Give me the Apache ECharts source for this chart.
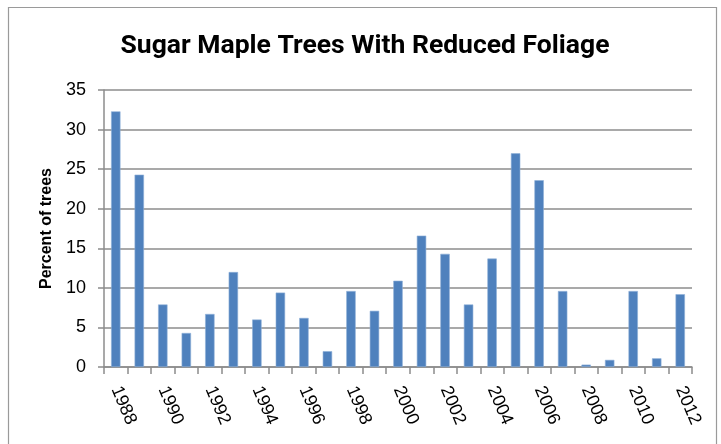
<!DOCTYPE html>
<html><head><meta charset="utf-8">
<script src="https://cdn.jsdelivr.net/npm/echarts@6/dist/echarts.min.js"></script>
<style>html,body{margin:0;padding:0;background:#fff}#c{width:721px;height:444px}</style>
</head><body><div id="c"></div>
<script>
const years = ['1988','1989','1990','1991','1992','1993','1994','1995','1996','1997','1998','1999','2000','2001','2002','2003','2004','2005','2006','2007','2008','2009','2010','2011','2012'];
const percentTrees = [32.3,24.3,7.9,4.3,6.7,12.0,6.0,9.4,6.2,2.0,9.6,7.1,10.9,16.6,14.3,7.9,13.7,27.0,23.6,9.6,0.3,0.9,9.6,1.1,9.2];
const yTicks = {min:0, max:35, interval:5};
const titleText = 'Sugar Maple Trees With Reduced Foliage';
const yName = 'Percent of trees';

const chart = echarts.init(document.getElementById('c'), null, {renderer:'canvas'});
chart.setOption({
  backgroundColor:'#fff',
  animation:false,
  graphic:[{type:'rect', shape:{x:8.5,y:7.5,width:708,height:450}, style:{fill:'none', stroke:'#9a9a9a', lineWidth:1.2}, z:-1}],
  title:{text:titleText, left:360, top:28, textAlign:'center', textStyle:{fontFamily:'Roboto', fontWeight:'bold', fontSize:26.5, color:'#000'}},
  grid:{left:104, right:29, top:90, bottom:77},
  xAxis:{type:'category', data:years, boundaryGap:true,
    axisLine:{lineStyle:{color:'#8c8c8c', width:1.5}},
    axisTick:{show:true, length:7, interval:0, lineStyle:{color:'#8c8c8c', width:1.5}},
    axisLabel:{interval:1, rotate:-67, margin:20, fontFamily:'Liberation Sans', fontSize:18, color:'#000'}},
  yAxis:{type:'value', min:yTicks.min, max:yTicks.max, interval:yTicks.interval,
    name:yName, nameLocation:'middle', nameGap:45, nameRotate:90,
    nameTextStyle:{fontFamily:'Liberation Sans', fontWeight:'bold', fontSize:16, color:'#000'},
    axisLine:{show:true, lineStyle:{color:'#8c8c8c', width:1.5}},
    axisTick:{show:true, length:6, lineStyle:{color:'#8c8c8c', width:1.5}},
    axisLabel:{margin:18, fontFamily:'Liberation Sans', fontSize:18, color:'#000'},
    splitLine:{lineStyle:{color:'#8c8c8c', width:1.5}}},
  series:[{type:'bar', data:percentTrees, barWidth:'40%',
    itemStyle:{color:'#4F81BD', borderColor:'#8fb0d8', borderWidth:0.6}}]
});
</script></body></html>
